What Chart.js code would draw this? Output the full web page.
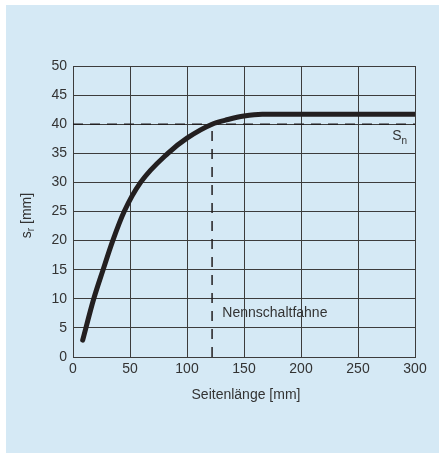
<!DOCTYPE html>
<html>
<head>
<meta charset="utf-8">
<script src="https://cdn.jsdelivr.net/npm/chart.js@4/dist/chart.umd.min.js"></script>
<style>
  html, body { margin: 0; padding: 0; background: #ffffff; }
  canvas { display: block; }
</style>
</head>
<body>
<canvas id="chart" width="443" height="455"></canvas>
<script>
// Seitenlänge [mm] vs. s_r [mm]
const sideLength = [8.5, 18.2, 26.4, 34.9, 44.9, 59.3, 83.2, 100, 122, 136, 150, 166, 300];
const switchDist = [2.9, 10, 15, 20, 25, 30, 35, 37.6, 40, 40.8, 41.4, 41.7, 41.7];

const nominalSn = 40;          // S_n line
const nominalTarget = 122;     // Nennschaltfahne
const xTicks = [0, 50, 100, 150, 200, 250, 300];
const yTicks = [0, 5, 10, 15, 20, 25, 30, 35, 40, 45, 50];

const INK = '#231f20';
const GRID = '#3c3c3c';
const TEXT = '#333333';
const FONT = '"Liberation Sans", Arial, sans-serif';

const curve = sideLength.map((x, i) => ({ x: x, y: switchDist[i] }));
const snLine = [{ x: xTicks[0], y: nominalSn }, { x: xTicks[xTicks.length - 1], y: nominalSn }];
const targetLine = [{ x: nominalTarget, y: 0 }, { x: nominalTarget, y: nominalSn }];

// light blue panel behind everything
const panelPlugin = {
    id: 'panel',
    beforeDraw(chart) {
        const ctx = chart.ctx;
        ctx.save();
        ctx.fillStyle = '#d5e9f5';
        ctx.fillRect(6, 5, 433, 448);
        ctx.restore();
    }
};

// text with subscripts and axis titles
const labelPlugin = {
    id: 'labels',
    afterDraw(chart) {
        const ctx = chart.ctx;
        const xs = chart.scales.x, ys = chart.scales.y;
        const area = chart.chartArea;
        ctx.save();
        ctx.fillStyle = TEXT;

        // x axis title
        ctx.font = '14px ' + FONT;
        ctx.textAlign = 'center';
        ctx.textBaseline = 'middle';
        ctx.fillText('Seitenlänge [mm]', (area.left + area.right) / 2 + 2, 395);

        // y axis title, rotated with subscript r
        ctx.save();
        ctx.translate(27, (area.top + area.bottom) / 2 + 4);
        ctx.rotate(-Math.PI / 2);
        ctx.textAlign = 'left';
        ctx.textBaseline = 'middle';
        const main = 's';
        const rest = ' [mm]';
        ctx.font = '14px ' + FONT;
        const wS = ctx.measureText(main).width;
        ctx.font = '10px ' + FONT;
        const wR = ctx.measureText('r').width;
        ctx.font = '14px ' + FONT;
        const wRest = ctx.measureText(rest).width;
        let x0 = -(wS + wR + wRest) / 2;
        ctx.fillText(main, x0, 0);
        ctx.font = '10px ' + FONT;
        ctx.fillText('r', x0 + wS, 4);
        ctx.font = '14px ' + FONT;
        ctx.fillText(rest, x0 + wS + wR, 0);
        ctx.restore();

        // S_n label
        ctx.textAlign = 'left';
        ctx.textBaseline = 'middle';
        ctx.font = '14px ' + FONT;
        const snX = xs.getPixelForValue(280);
        const snY = ys.getPixelForValue(37.9);
        ctx.fillText('S', snX, snY);
        const wSn = ctx.measureText('S').width;
        ctx.font = '10px ' + FONT;
        ctx.fillText('n', snX + wSn, snY + 5);

        // Nennschaltfahne label
        ctx.font = '14px ' + FONT;
        ctx.fillText('Nennschaltfahne', xs.getPixelForValue(131), ys.getPixelForValue(7.5));
        ctx.restore();
    }
};

new Chart(document.getElementById('chart'), {
    type: 'line',
    data: {
        datasets: [{
            label: 'Schaltabstand',
            data: curve,
            borderColor: INK,
            borderWidth: 5,
            borderCapStyle: 'round',
            borderJoinStyle: 'round',
            cubicInterpolationMode: 'monotone',
            pointRadius: 0,
            fill: false,
            order: 0
        }, {
            label: 'Sn',
            data: snLine,
            borderColor: INK,
            borderWidth: 1.5,
            borderDash: [10, 7],
            pointRadius: 0,
            fill: false,
            order: 1
        }, {
            label: 'Nennschaltfahne',
            data: targetLine,
            borderColor: INK,
            borderWidth: 1.5,
            borderDash: [10, 8],
            pointRadius: 0,
            fill: false,
            order: 1
        }]
    },
    options: {
        responsive: false,
        animation: false,
        devicePixelRatio: 1,
        layout: { padding: { left: 0, top: 66, right: 28, bottom: 0 } },
        plugins: {
            legend: { display: false },
            tooltip: { enabled: false }
        },
        scales: {
            x: {
                type: 'linear',
                min: 0,
                max: 300,
                afterBuildTicks(scale) { scale.ticks = xTicks.map(v => ({ value: v })); },
                afterFit(scale) { scale.height = 98; },
                grid: { color: GRID, lineWidth: 1, drawTicks: false },
                border: { display: true, color: GRID, width: 1 },
                ticks: { color: TEXT, font: { family: FONT, size: 14 }, padding: 4, maxRotation: 0 }
            },
            y: {
                type: 'linear',
                min: 0,
                max: 50,
                afterBuildTicks(scale) { scale.ticks = yTicks.map(v => ({ value: v })); },
                afterFit(scale) { scale.width = 73; },
                grid: { color: GRID, lineWidth: 1, drawTicks: false },
                border: { display: true, color: GRID, width: 1 },
                ticks: { color: TEXT, font: { family: FONT, size: 14 }, padding: 6 }
            }
        }
    },
    plugins: [panelPlugin, labelPlugin]
});
</script>
</body>
</html>
